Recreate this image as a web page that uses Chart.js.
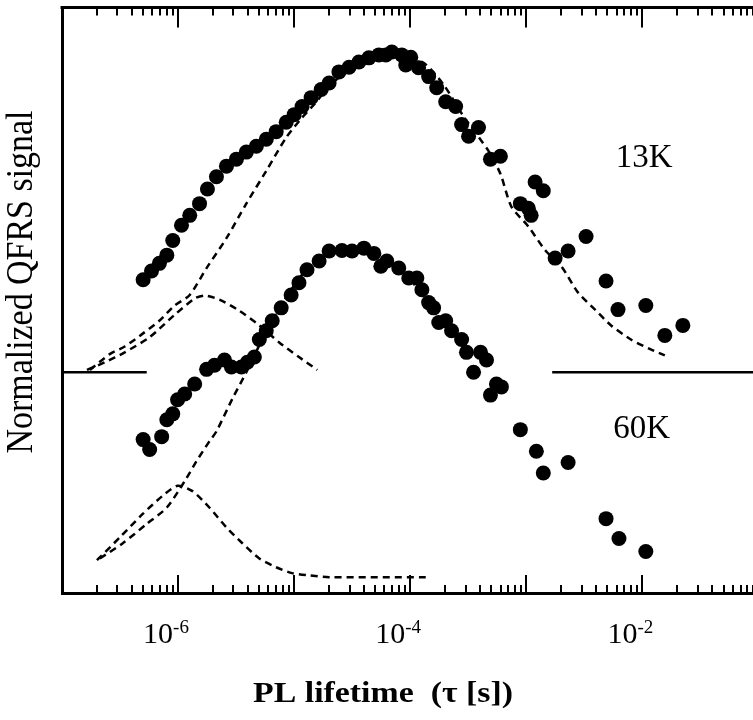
<!DOCTYPE html>
<html>
<head>
<meta charset="utf-8">
<script src="https://cdn.jsdelivr.net/npm/chart.js@4.4.1/dist/chart.umd.min.js"></script>
<style>
  html, body { margin: 0; padding: 0; background: #fff; overflow: hidden; width: 753px; height: 720px; }
  canvas { display: block; }
</style>
</head>
<body>
<canvas id="qfrsChart" width="766" height="720"></canvas>
<script>
// measured QFRS spectra (tau in s, signal normalized 0..100 over the frame)
const tau13K = [5.0e-7, 5.9e-7, 6.9e-7, 8.0e-7, 9.0e-7, 1.07e-6, 1.26e-6, 1.53e-6, 1.79e-6, 2.14e-6,
    2.61e-6, 3.18e-6, 3.87e-6, 4.72e-6, 5.75e-6, 7.0e-6, 8.54e-6, 1.0e-5, 1.17e-5, 1.40e-5,
    1.71e-5, 2.0e-5, 2.43e-5, 2.97e-5, 3.61e-5, 4.40e-5, 5.37e-5, 6.16e-5, 6.94e-5, 8.45e-5,
    9.15e-5, 1.01e-4, 1.18e-4, 1.44e-4, 1.69e-4, 2.02e-4, 2.46e-4, 2.77e-4, 3.18e-4, 3.87e-4,
    4.91e-4, 5.98e-4, 8.88e-4, 1.04e-3, 1.10e-3, 1.19e-3, 1.40e-3, 1.77e-3, 2.29e-3, 3.27e-3,
    4.86e-3, 6.16e-3, 1.07e-2, 1.56e-2, 2.23e-2];
const sig13K = [53.5, 55.0, 56.3, 57.7, 60.2, 62.8, 64.5, 66.5, 69.0, 71.1,
    72.9, 74.1, 75.3, 76.3, 77.5, 78.8, 80.4, 81.7, 83.1, 84.6,
    86.0, 87.1, 89.0, 89.8, 90.7, 91.4, 91.9, 91.9, 92.4, 91.9,
    90.2, 91.5, 89.7, 88.2, 86.3, 83.9, 83.1, 80.0, 78.0, 79.5,
    74.1, 74.6, 66.5, 65.7, 64.5, 70.2, 68.7, 57.2, 58.4, 60.9,
    53.3, 48.4, 49.1, 44.0, 45.7];

const tau60K = [5.0e-7, 5.69e-7, 7.22e-7, 8.0e-7, 9.0e-7, 9.9e-7, 1.14e-6, 1.39e-6, 1.76e-6, 2.06e-6,
    2.51e-6, 2.88e-6, 3.51e-6, 3.95e-6, 4.54e-6, 5.01e-6, 5.75e-6, 6.47e-6, 7.73e-6, 9.42e-6,
    1.10e-5, 1.29e-5, 1.64e-5, 2.0e-5, 2.58e-5, 3.15e-5, 3.99e-5, 4.86e-5, 5.58e-5, 6.28e-5,
    7.96e-5, 9.71e-5, 1.14e-4, 1.26e-4, 1.44e-4, 1.59e-4, 1.76e-4, 2.02e-4, 2.27e-4, 2.77e-4,
    3.05e-4, 3.51e-4, 4.03e-4, 4.54e-4, 4.91e-4, 5.53e-4, 6.10e-4, 8.88e-4, 1.22e-3, 1.40e-3,
    2.29e-3, 4.86e-3, 6.28e-3, 1.07e-2];
const sig60K = [26.2, 24.5, 26.7, 29.6, 30.6, 33.0, 34.0, 35.7, 38.2, 38.9,
    39.8, 38.6, 38.6, 39.4, 40.3, 43.3, 44.8, 46.5, 48.7, 50.9,
    53.0, 55.2, 56.7, 58.4, 58.5, 58.4, 58.9, 58.0, 55.8, 56.7,
    55.5, 53.8, 53.8, 51.8, 49.6, 48.7, 46.2, 46.5, 44.8, 43.3,
    41.1, 37.7, 41.1, 39.8, 33.8, 35.7, 35.2, 27.9, 24.2, 20.5,
    22.3, 12.7, 9.3, 7.1];

// fitted components (dashed)
const tauFast13K = [1.64e-7, 2.34e-7, 3.47e-7, 5.69e-7, 9.33e-7, 1.39e-6, 1.69e-6, 2.27e-6, 3.37e-6, 5.01e-6, 7.43e-6, 1.10e-5, 1.58e-5];
const fitFast13K = [38.1, 39.4, 41.1, 43.7, 47.5, 50.3, 50.8, 50.1, 48.2, 45.7, 42.8, 40.3, 38.1];

const tauSlow13K = [1.74e-7, 2.58e-7, 3.47e-7, 4.96e-7, 6.9e-7, 9.33e-7, 1.26e-6, 1.76e-6, 2.61e-6, 3.87e-6,
    5.75e-6, 8.54e-6, 1.17e-5, 1.48e-5, 2.0e-5, 2.97e-5, 4.40e-5, 7.96e-5, 1.31e-4, 1.94e-4,
    2.88e-4, 4.72e-4, 5.98e-4, 7.43e-4, 1.04e-3, 1.46e-3, 2.0e-3, 2.79e-3, 3.91e-3, 5.37e-3,
    7.96e-3, 1.18e-2, 1.56e-2];
const fitSlow13K = [38.1, 40.8, 42.1, 44.3, 46.5, 49.1, 50.9, 55.5, 60.6, 66.5,
    72.1, 77.8, 81.2, 83.4, 86.5, 89.5, 91.4, 92.0, 90.5, 86.8,
    81.4, 75.5, 71.6, 66.0, 62.6, 58.5, 55.8, 51.3, 48.4, 45.7,
    43.3, 41.6, 40.6];

const tauFast60K = [2.0e-7, 3.15e-7, 4.96e-7, 7.36e-7, 9.9e-7, 1.33e-6, 1.86e-6, 2.61e-6, 3.58e-6, 5.01e-6, 7.0e-6, 9.6e-6, 1.35e-5, 2.0e-5, 1.36e-4];
const fitFast60K = [5.6, 9.5, 13.5, 16.6, 18.3, 17.4, 14.6, 11.2, 8.5, 5.9, 4.4, 3.4, 3.0, 2.7, 2.7];

const tauSlow60K = [2.12e-7, 3.34e-7, 5.37e-7, 8.0e-7, 1.14e-6, 1.44e-6, 1.86e-6, 2.14e-6, 2.94e-6, 3.87e-6,
    5.01e-6, 6.73e-6, 9.06e-6, 1.35e-5, 2.0e-5, 2.97e-5, 4.40e-5, 6.53e-5, 9.71e-5, 1.44e-4, 2.14e-4];
const fitSlow60K = [5.9, 8.5, 11.8, 14.6, 19.1, 22.5, 25.9, 27.6, 33.2, 37.7,
    42.3, 47.0, 51.3, 55.8, 58.0, 58.5, 58.4, 56.7, 53.8, 49.6, 46.2];

// zero reference line between the two spectra
const baseLevel = 37.7;
const baseLeftTau = [1e-7, 5.37e-7];
const baseRightTau = [1.67e-3, 1e-1];

const tickLabelExps = [-6, -4, -2];
const xTitle = 'PL lifetime  (\u03c4 [s])';
const yTitle = 'Normalized QFRS signal';

const toPoints = (xs, ys) => xs.map((x, i) => ({ x: x, y: ys[i] }));

function dots(data) {
    return { data: data, backgroundColor: '#000', borderWidth: 0, pointRadius: 7.5, pointHoverRadius: 7.5, order: 0 };
}
function dashed(data) {
    return { data: data, showLine: true, fill: false, borderColor: '#000', borderWidth: 2.5,
        borderDash: [7, 5], tension: 0.25, pointRadius: 0, order: 1 };
}
function solid(data) {
    return { data: data, showLine: true, fill: false, borderColor: '#000', borderWidth: 2.5,
        pointRadius: 0, order: 1 };
}

function drawFitted(ctx, text, font, x, y, targetW, rotate) {
    ctx.save();
    ctx.translate(x, y);
    if (rotate) ctx.rotate(-Math.PI / 2);
    ctx.font = font;
    const w = ctx.measureText(text).width;
    ctx.scale(targetW / w, 1);
    ctx.textAlign = 'center';
    ctx.textBaseline = 'alphabetic';
    ctx.fillText(text, 0, 0);
    ctx.restore();
}

const framePlugin = {
    id: 'frame',
    afterDraw(chart) {
        const { ctx, chartArea: a, scales: { x, y } } = chart;
        ctx.save();
        ctx.strokeStyle = '#000';
        ctx.fillStyle = '#000';

        // top border
        ctx.lineWidth = 3;
        ctx.beginPath();
        ctx.moveTo(a.left - 1.5, a.top);
        ctx.lineTo(a.right, a.top);
        ctx.stroke();

        // inward ticks, top and bottom
        ctx.lineWidth = 2;
        for (let k = -7; k <= -1; k++) {
            for (let m = 1; m <= 9; m++) {
                if (k === -7 && m === 1) continue;
                if (k === -1 && m > 1) break;
                const px = Math.round(x.getPixelForValue(m * Math.pow(10, k)));
                const major = m === 1;
                ctx.beginPath();
                ctx.moveTo(px, a.bottom);
                ctx.lineTo(px, a.bottom - (major ? 18 : 8));
                ctx.moveTo(px, a.top);
                ctx.lineTo(px, a.top + (major ? 20 : 8));
                ctx.stroke();
            }
        }

        // tick labels 10^n
        tickLabelExps.forEach(e => {
            const px = x.getPixelForValue(Math.pow(10, e));
            ctx.font = '30px "Liberation Serif"';
            ctx.textAlign = 'right';
            ctx.textBaseline = 'alphabetic';
            ctx.fillText('10', px - 5, 643);
            ctx.font = '19px "Liberation Serif"';
            ctx.textAlign = 'left';
            ctx.fillText(String(e), px - 5, 633);
        });

        // temperature labels
        ctx.font = '33px "Liberation Serif"';
        ctx.textAlign = 'left';
        ctx.fillText('13K', x.getPixelForValue(5.9e-3), y.getPixelForValue(72.8));
        ctx.fillText('60K', x.getPixelForValue(5.6e-3), y.getPixelForValue(26.4));

        // axis titles
        drawFitted(ctx, xTitle, 'bold 29px "Liberation Serif"', 383, 702, 260, false);
        drawFitted(ctx, yTitle, '37px "Liberation Serif"', 32, 282, 343, true);
        ctx.restore();
    }
};

new Chart(document.getElementById('qfrsChart').getContext('2d'), {
    type: 'scatter',
    data: {
        datasets: [
            dots(toPoints(tau13K, sig13K)),
            dots(toPoints(tau60K, sig60K)),
            dashed(toPoints(tauFast13K, fitFast13K)),
            dashed(toPoints(tauSlow13K, fitSlow13K)),
            dashed(toPoints(tauFast60K, fitFast60K)),
            dashed(toPoints(tauSlow60K, fitSlow60K)),
            solid(toPoints(baseLeftTau, [baseLevel, baseLevel])),
            solid(toPoints(baseRightTau, [baseLevel, baseLevel]))
        ]
    },
    options: {
        responsive: false,
        animation: false,
        layout: { padding: { top: 2, right: 5, left: 0, bottom: 0 } },
        plugins: { legend: { display: false }, tooltip: { enabled: false } },
        scales: {
            x: {
                type: 'logarithmic', min: 1e-7, max: 1e-1,
                ticks: { display: false },
                grid: { display: false, drawTicks: false },
                border: { color: '#000', width: 3 },
                afterFit: s => { s.height = 127; }
            },
            y: {
                min: 0, max: 100,
                ticks: { display: false },
                grid: { display: false, drawTicks: false },
                border: { color: '#000', width: 3 },
                afterFit: s => { s.width = 62; }
            }
        }
    },
    plugins: [framePlugin]
});
</script>
</body>
</html>
